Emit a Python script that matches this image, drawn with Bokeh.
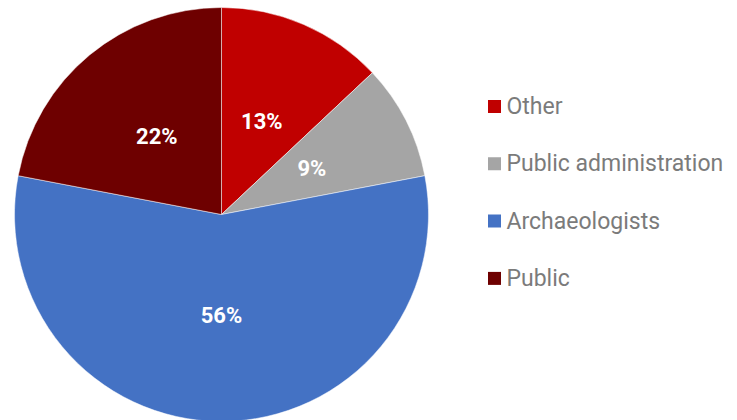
import numpy as np
from bokeh.plotting import figure
from bokeh.models import Range1d, ColumnDataSource
from bokeh.core.properties import value
from bokeh.embed import file_html
from bokeh.resources import INLINE

categories = ["Other", "Public administration", "Archaeologists", "Public"]
shares = [13, 9, 56, 22]
labels = ["13%", "9%", "56%", "22%"]
colors = ["#C00000", "#A5A5A5", "#4472C4", "#6E0000"]

W, H = 737, 420
p = figure(width=W, height=H, output_backend="svg", toolbar_location=None,
           x_range=Range1d(0, W), y_range=Range1d(0, H), min_border=0)
p.axis.visible = False
p.grid.visible = False
p.outline_line_color = None
p.background_fill_color = "white"
p.border_fill_color = "white"

cx, cy, R = 221, H - 214, 207
vals = np.array(shares, dtype=float)
frac = vals / vals.sum()
ends = np.pi / 2 - 2 * np.pi * np.cumsum(frac)
starts = np.concatenate([[np.pi / 2], ends[:-1]])
mids = (starts + ends) / 2
lr = 0.49 * R
src = ColumnDataSource(dict(cat=categories, start=starts, end=ends, color=colors,
                            lx=cx + lr * np.cos(mids), ly=cy + lr * np.sin(mids),
                            lab=labels))
p.wedge(x=cx, y=cy, radius=R, start_angle="end", end_angle="start",
        fill_color="color", line_color="white", line_width=0.5, source=src)
p.text(x="lx", y="ly", text="lab", source=src, text_color="white",
       text_font=value("Roboto"), text_font_style="bold", text_font_size="22px",
       text_align="center", text_baseline="middle")

# legend
idx = np.arange(len(categories))
leg = ColumnDataSource(dict(x=np.full(len(categories), 494.0),
                            y=(H - 106) - 57.3 * idx,
                            tx=np.full(len(categories), 506.0),
                            cat=categories, color=colors))
p.scatter(x="x", y="y", marker="square", size=13, fill_color="color",
          line_color=None, source=leg)
p.text(x="tx", y="y", text="cat", source=leg, text_color="#7b7b7b",
       text_font=value("Roboto"), text_font_size="23px",
       text_align="left", text_baseline="middle")

open("out.html", "w").write(file_html(p, INLINE))
